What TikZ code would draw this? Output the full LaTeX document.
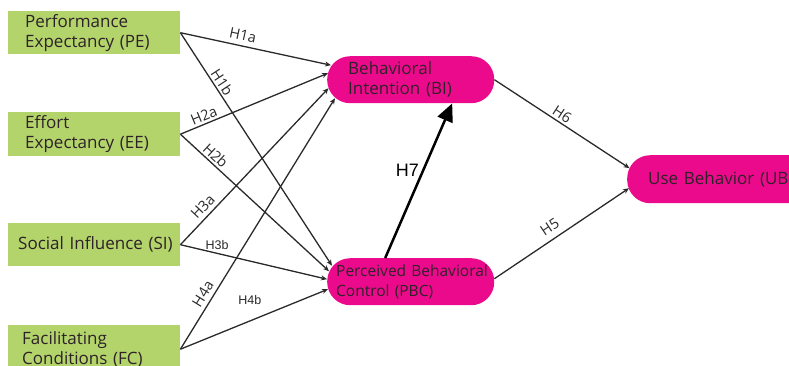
\documentclass[tikz,border=0pt]{standalone}
\usepackage{fontspec}
\setmainfont{Open Sans}
\newfontfamily\arialfont{Liberation Sans}
\usetikzlibrary{calc,arrows.meta}
\definecolor{boxgreen}{HTML}{B3D36B}
\definecolor{boxpink}{HTML}{EC0A8C}
\definecolor{boxtext}{HTML}{2E2228}
\definecolor{linegray}{HTML}{2A2A2A}
\hyphenpenalty=10000
\exhyphenpenalty=10000
\hbadness=10000
\hfuzz=100pt
\tikzset{
  greenbox/.style={fill=boxgreen, text=boxtext, anchor=north west, align=left,
    inner ysep=0pt, font=\fontsize{17}{20}\selectfont},
  pinkbox/.style={fill=boxpink, text=boxtext, rounded corners=23pt, anchor=north west,
    align=left, inner ysep=0pt, font=\fontsize{17}{20}\selectfont},
  hyp/.style={-{Stealth[length=6pt,width=5pt]}, draw=linegray, line width=1.3pt},
  hlabel/.style={font=\fontsize{14.5}{16}\selectfont, text=linegray, sloped, inner sep=2pt},
  alabel/.style={font=\arialfont\fontsize{12.5}{14}\selectfont, text=linegray},
}
\begin{document}
\begin{tikzpicture}[x=1pt,y=-1pt]
    \useasboundingbox (0,0) rectangle (789,365);
    \clip (0,0) rectangle (789,365);
    % constructs
	\node[greenbox, minimum width=172pt, minimum height=43pt, text width=138pt, inner xsep=17pt] (PE) at (8,11) {Performance\\Expectancy~(PE)};
	\node[greenbox, minimum width=172pt, minimum height=44pt, text width=138pt, inner xsep=17pt] (EE) at (8,112) {Effort\\Expectancy~(EE)};
	\node[greenbox, minimum width=172pt, minimum height=43pt, text width=152pt, inner xsep=10pt] (SI) at (8,223) {Social~Influence~(SI)};
	\node[greenbox, minimum width=172pt, minimum height=48pt, text width=144pt, inner xsep=14pt] (FC) at (8,325) {Facilitating\\Conditions~(FC)};
	\node[pinkbox, minimum width=167pt, minimum height=47pt, text width=125pt, inner xsep=21pt] (BI) at (327,56) {Behavioral\\Intention~(BI)};
	\node[pinkbox, minimum width=167pt, minimum height=47pt, text width=149pt, inner xsep=9pt, font=\fontsize{15.5}{20}\selectfont] (PBC) at (327,258) {Perceived~Behavioral\\Control~(PBC)};
	\node[pinkbox, minimum width=200pt, minimum height=48pt, text width=158pt, inner xsep=21pt] (UB) at (627,155) {Use~Behavior~(UB)};
    % hypotheses
	\draw[hyp] (PE.east) -- node[hlabel, pos=0.40, above=3pt] {H1a} ($(BI.west)+(4,-14.5)$);
	\draw[hyp] (PE.east) -- node[hlabel, pos=0.23, above] {H1b} ($(PBC.west)+(5,-16)$);
	\draw[hyp] (EE.east) -- node[hlabel, pos=0.18, above] {H2a} ($(BI.west)+(1,-6.5)$);
	\draw[hyp] (EE.east) -- node[hlabel, pos=0.20, above] {H2b} ($(PBC.west)+(2,-10.5)$);
	\draw[hyp] (SI.east) -- node[hlabel, pos=0.20, above=2pt] {H3a} ($(BI.west)+(1.5,8.5)$);
	\draw[hyp] (SI.east) -- node[alabel, pos=0.25, above] {H3b} ($(PBC.west)+(0,-2.5)$);
	\draw[hyp] (FC.east) -- node[hlabel, pos=0.20, above=2pt] {H4a} ($(BI.west)+(8,18.5)$);
	\draw[hyp] (FC.east) -- node[alabel, pos=0.47, above=12pt] {H4b} ($(PBC.west)+(1,7.5)$);
	\draw[hyp] (BI.east) -- node[hlabel, pos=0.47, above] {H6} ($(UB.west)+(2.5,-11)$);
	\draw[hyp] ($(PBC.east)+(0,-3)$) -- node[hlabel, pos=0.46, above=4pt] {H5} ($(UB.west)+(2,9)$);
	\draw[-{Triangle[length=18pt,width=16pt]}, line width=2.5pt] ($(PBC.north)+(-25.5,0)$) -- node[pos=0.57, left, font=\arialfont\fontsize{18}{20}\selectfont] {H7} ($(BI.south)+(41.5,0)$);
\end{tikzpicture}
\end{document}
